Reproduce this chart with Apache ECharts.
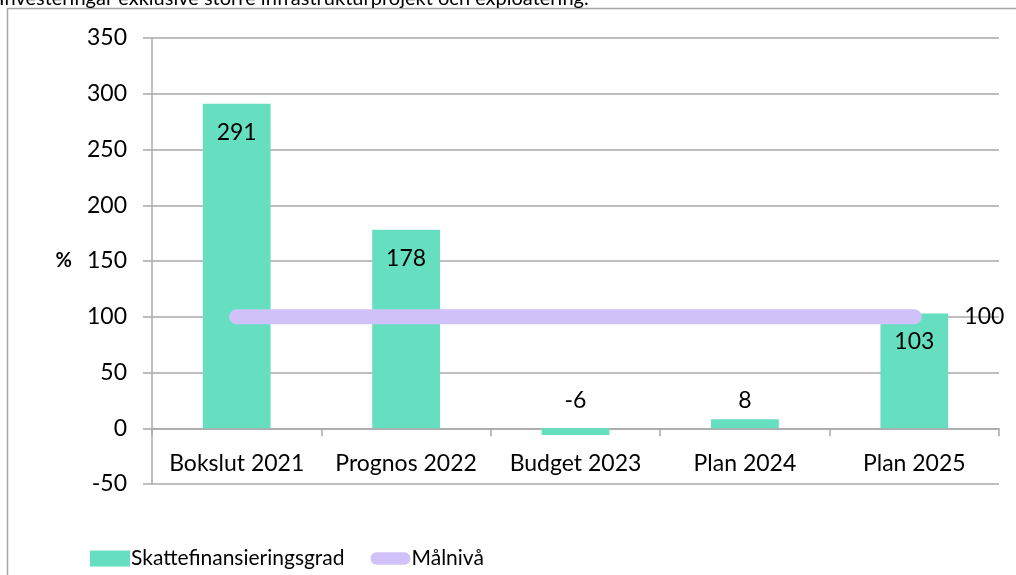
<!DOCTYPE html>
<html>
<head>
<meta charset="utf-8">
<script src="https://cdn.jsdelivr.net/npm/echarts@6/dist/echarts.min.js"></script>
<style>
    html, body { margin: 0; padding: 0; background: #fff; }
    #chart { width: 1016px; height: 575px; }
</style>
</head>
<body>
<div id="chart"></div>
<script>
    // data
    const categories = ["Bokslut 2021", "Prognos 2022", "Budget 2023", "Plan 2024", "Plan 2025"];
    const skattefinansieringsgrad = [291, 178, -6, 8, 103];
    const malniva = [100, 100, 100, 100, 100];
    const yTicks = { min: -50, max: 350, interval: 50 };

    const FONT = "Lato";
    const gridColor = "#a9a9a9";
    const lineColor = "#d0c2f8";

    const myChart = echarts.init(document.getElementById("chart"));

    // big bars get the value inside, small ones above
    const barData = skattefinansieringsgrad.map((v) => {
        const inside = Math.abs(v) > 50;
        return {
            value: v,
            label: {
                position: inside ? "insideTop" : "top",
                distance: inside ? 17 : (v < 0 ? 16 : 7),
            },
        };
    });

    const option = {
        backgroundColor: "#fff",
        textStyle: { fontFamily: FONT, color: "#000" },
        graphic: [
            {
                type: "rect",
                silent: true,
                shape: { x: 7.5, y: 8.5, width: 1200, height: 800 },
                style: { fill: "none", stroke: "#a6a6a6", lineWidth: 1.5 },
            },
            {
                type: "text",
                left: -1,
                top: -11,
                style: {
                    text: "Investeringar exklusive större infrastrukturprojekt och exploatering.",
                    font: "20px " + FONT,
                    fill: "#000",
                },
            },
        ],
        grid: { left: 152, right: 17, top: 38, bottom: 91 },
        legend: {
            left: 85,
            top: 543,
            itemWidth: 40,
            itemHeight: 16,
            itemGap: 26,
            textStyle: { fontSize: 21, fontFamily: FONT, color: "#000", padding: [0, 0, 0, -4] },
            data: [
                { name: "Skattefinansieringsgrad", icon: "rect" },
                {
                    name: "Målnivå",
                    icon: "path://M7,0 H38 A7,7 0 0 1 38,14 H7 A7,7 0 0 1 7,0 Z",
                },
            ],
        },
        xAxis: {
            type: "category",
            data: categories,
            axisLine: { onZero: true, lineStyle: { color: gridColor, width: 1.5 } },
            axisTick: { show: true, length: 8, lineStyle: { color: gridColor, width: 1.5 } },
            axisLabel: { interval: 0, fontSize: 23, color: "#000", margin: -32, fontFamily: FONT },
        },
        yAxis: {
            type: "value",
            min: yTicks.min,
            max: yTicks.max,
            interval: yTicks.interval,
            name: "%",
            nameLocation: "middle",
            nameRotate: 0,
            nameGap: 80,
            nameTextStyle: { fontSize: 20, fontWeight: "bold", color: "#000", fontFamily: FONT },
            axisLine: { show: true, lineStyle: { color: gridColor, width: 1.5 } },
            axisTick: { show: true, length: 9, lineStyle: { color: gridColor, width: 1.5 } },
            axisLabel: { fontSize: 23, color: "#000", margin: 25, fontFamily: FONT },
            splitLine: { lineStyle: { color: gridColor, width: 1.5 } },
        },
        series: [
            {
                name: "Skattefinansieringsgrad",
                type: "bar",
                barWidth: "40%",
                itemStyle: { color: "#66dfc0" },
                label: { show: true, fontSize: 23, color: "#000", fontFamily: FONT },
                data: barData,
                z: 2,
            },
            {
                name: "Målnivå",
                type: "line",
                symbol: "none",
                lineStyle: { color: lineColor, width: 15, cap: "round" },
                itemStyle: { color: lineColor },
                endLabel: {
                    show: true,
                    distance: 50,
                    fontSize: 23,
                    color: "#000",
                    fontFamily: FONT,
                },
                data: malniva,
                z: 3,
            },
        ],
    };

    myChart.setOption(option);
</script>
</body>
</html>
